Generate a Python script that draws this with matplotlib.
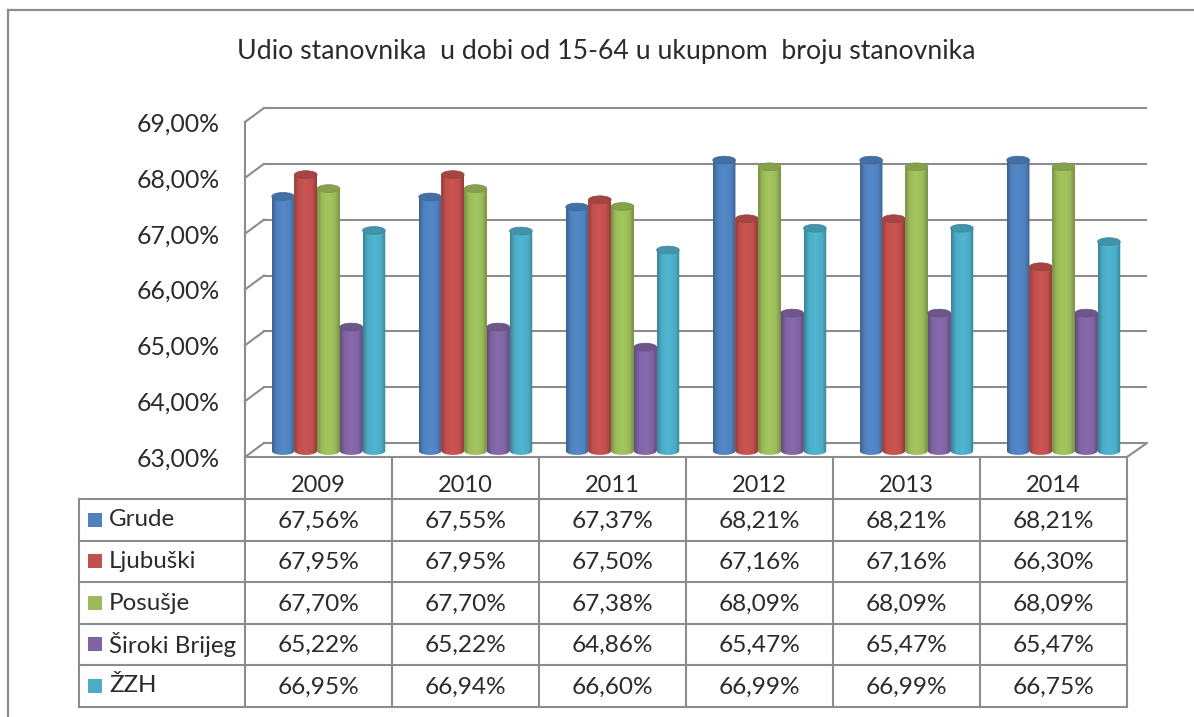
import numpy as np
import matplotlib
matplotlib.use('Agg')
import matplotlib.pyplot as plt
from matplotlib.colors import LinearSegmentedColormap, to_rgb
from matplotlib.patches import Ellipse, Rectangle
from matplotlib.path import Path
from matplotlib.ticker import FuncFormatter
from matplotlib.transforms import Affine2D, IdentityTransform

title = 'Udio stanovnika  u dobi od 15-64 u ukupnom  broju stanovnika'
years = ['2009', '2010', '2011', '2012', '2013', '2014']
series_names = ['Grude', 'Ljubuški', 'Posušje', 'Široki Brijeg', 'ŽZH']
colors = ['#4F81BD', '#C0504D', '#9BBB59', '#8064A2', '#4BACC6']

grude = [67.56, 67.55, 67.37, 68.21, 68.21, 68.21]
ljubuski = [67.95, 67.95, 67.50, 67.16, 67.16, 66.30]
posusje = [67.70, 67.70, 67.38, 68.09, 68.09, 68.09]
siroki = [65.22, 65.22, 64.86, 65.47, 65.47, 65.47]
zzh = [66.95, 66.94, 66.60, 66.99, 66.99, 66.75]
all_series = [grude, ljubuski, posusje, siroki, zzh]

y_ticks = [63, 64, 65, 66, 67, 68, 69]

W, H = 1194, 717
LINE = '#8c8c8c'
TEXT = '#2b2b2b'
TABLE_COLS = [79, 245, 392, 539, 686, 833, 980, 1127]
TABLE_ROWS = [499, 541, 582, 624, 665, 707]

plt.rcParams['font.family'] = ['Lato', 'DejaVu Sans']


def pct(v):
    return f'{v:.2f}'.replace('.', ',') + '%'


def shade(color, f):
    r = np.array(to_rgb(color))
    return tuple(np.clip(r * f, 0, 1))


fig = plt.figure(figsize=(W / 100, H / 100), dpi=100)

# overlay in pixels for the frame and the data table
tbl = fig.add_axes([0, 0, 1, 1])
tbl.set_xlim(0, W)
tbl.set_ylim(H, 0)
tbl.axis('off')

tbl.plot([8, 8], [H, 10], color=LINE, lw=1.6)
tbl.plot([8, W], [10, 10], color=LINE, lw=1.6)
tbl.text(606, 52, title, ha='center', va='center', fontsize=19.2, color=TEXT)

for x in TABLE_COLS[1:]:
    tbl.plot([x, x], [457, TABLE_ROWS[-1]], color=LINE, lw=1.5)
tbl.plot([TABLE_COLS[0]] * 2, [TABLE_ROWS[0], TABLE_ROWS[-1]], color=LINE, lw=1.5)
for y in TABLE_ROWS:
    tbl.plot([TABLE_COLS[0], TABLE_COLS[-1]], [y, y], color=LINE, lw=1.5)

for j, year in enumerate(years):
    tbl.text((TABLE_COLS[j + 1] + TABLE_COLS[j + 2]) / 2, 485, year,
             ha='center', va='center', fontsize=17, color=TEXT)

for i, name in enumerate(series_names):
    yc = (TABLE_ROWS[i] + TABLE_ROWS[i + 1]) / 2
    tbl.add_patch(Rectangle((88, yc - 7.5), 14, 14, color=colors[i], lw=0))
    tbl.text(109, yc, name, ha='left', va='center', fontsize=17.4, color=TEXT)
    for j, v in enumerate(all_series[i]):
        tbl.text((TABLE_COLS[j + 1] + TABLE_COLS[j + 2]) / 2, yc + 1, pct(v),
                 ha='center', va='center', fontsize=17.6, color=TEXT)

# 3d column plot, front plane of the box
ax = fig.add_axes([245 / W, (H - 457) / H, (1127 - 245) / W, (457 - 122) / H])
ax.patch.set_visible(False)
ax.set_xlim(0, 6)
ax.set_ylim(63, 69)
ax.set_xticks([])
ax.set_yticks(y_ticks)
ax.yaxis.set_major_formatter(FuncFormatter(lambda v, _: pct(v)))
ax.tick_params(axis='y', length=0, pad=18, labelsize=17.8, labelcolor=TEXT)
for side in ['top', 'right', 'bottom']:
    ax.spines[side].set_visible(False)
ax.spines['left'].set_color(LINE)
ax.spines['left'].set_linewidth(1.5)

back_tr = ax.transData + Affine2D().translate(19, 14)
mid_tr = ax.transData + Affine2D().translate(10, 6)

for v in y_ticks:
    ax.plot([0, 6], [v, v], color=LINE, lw=1.5, transform=back_tr, clip_on=False, zorder=1)
    px, py = ax.transData.transform((0, v))
    ax.plot([px, px + 19], [py, py + 14], color=LINE, lw=1.5,
            transform=IdentityTransform(), clip_on=False, zorder=1)

ax.plot([0, 6], [63, 63], color=LINE, lw=1.5, clip_on=False, zorder=1)
px, py = ax.transData.transform((6, 63))
ax.plot([px, px + 20], [py, py + 14], color=LINE, lw=1.5,
        transform=IdentityTransform(), clip_on=False, zorder=1)

bar_w = 0.1544
cap_h = 0.14
grad = np.linspace(0, 1, 64).reshape(1, -1)

for i, vals in enumerate(all_series):
    c = colors[i]
    cmap = LinearSegmentedColormap.from_list(
        'cyl', [(0, shade(c, 0.76)), (0.2, shade(c, 1.0)), (0.5, shade(c, 1.06)),
                (0.8, shade(c, 1.0)), (1, shade(c, 0.76))])
    for j, v in enumerate(vals):
        xc = j + 0.5 + (i - 2) * bar_w
        z = 3 + j * 10 + i
        bar = ax.bar(xc, v - 63, bar_w, bottom=63, color=c, transform=mid_tr, zorder=z)

        # cylinder shading, rounded at the foot
        t = np.linspace(np.pi, 2 * np.pi, 24)
        outline = [(xc - bar_w / 2, v)] + \
            list(zip(xc + bar_w / 2 * np.cos(t), 63 + cap_h / 2 * np.sin(t))) + \
            [(xc + bar_w / 2, v), (xc - bar_w / 2, v)]
        im = ax.imshow(grad, extent=[xc - bar_w / 2, xc + bar_w / 2, 63 - cap_h, v],
                       aspect='auto', cmap=cmap, transform=mid_tr, zorder=z + 0.1)
        im.set_clip_path(Path(outline), transform=mid_tr)

        ax.add_patch(Ellipse((xc, v), bar_w, cap_h, facecolor=shade(c, 0.86),
                             edgecolor=shade(c, 0.8), lw=0.5,
                             transform=mid_tr, zorder=z + 0.2))

ax.set_xlim(0, 6)
ax.set_ylim(63, 69)

fig.savefig('out.png', dpi=100)
